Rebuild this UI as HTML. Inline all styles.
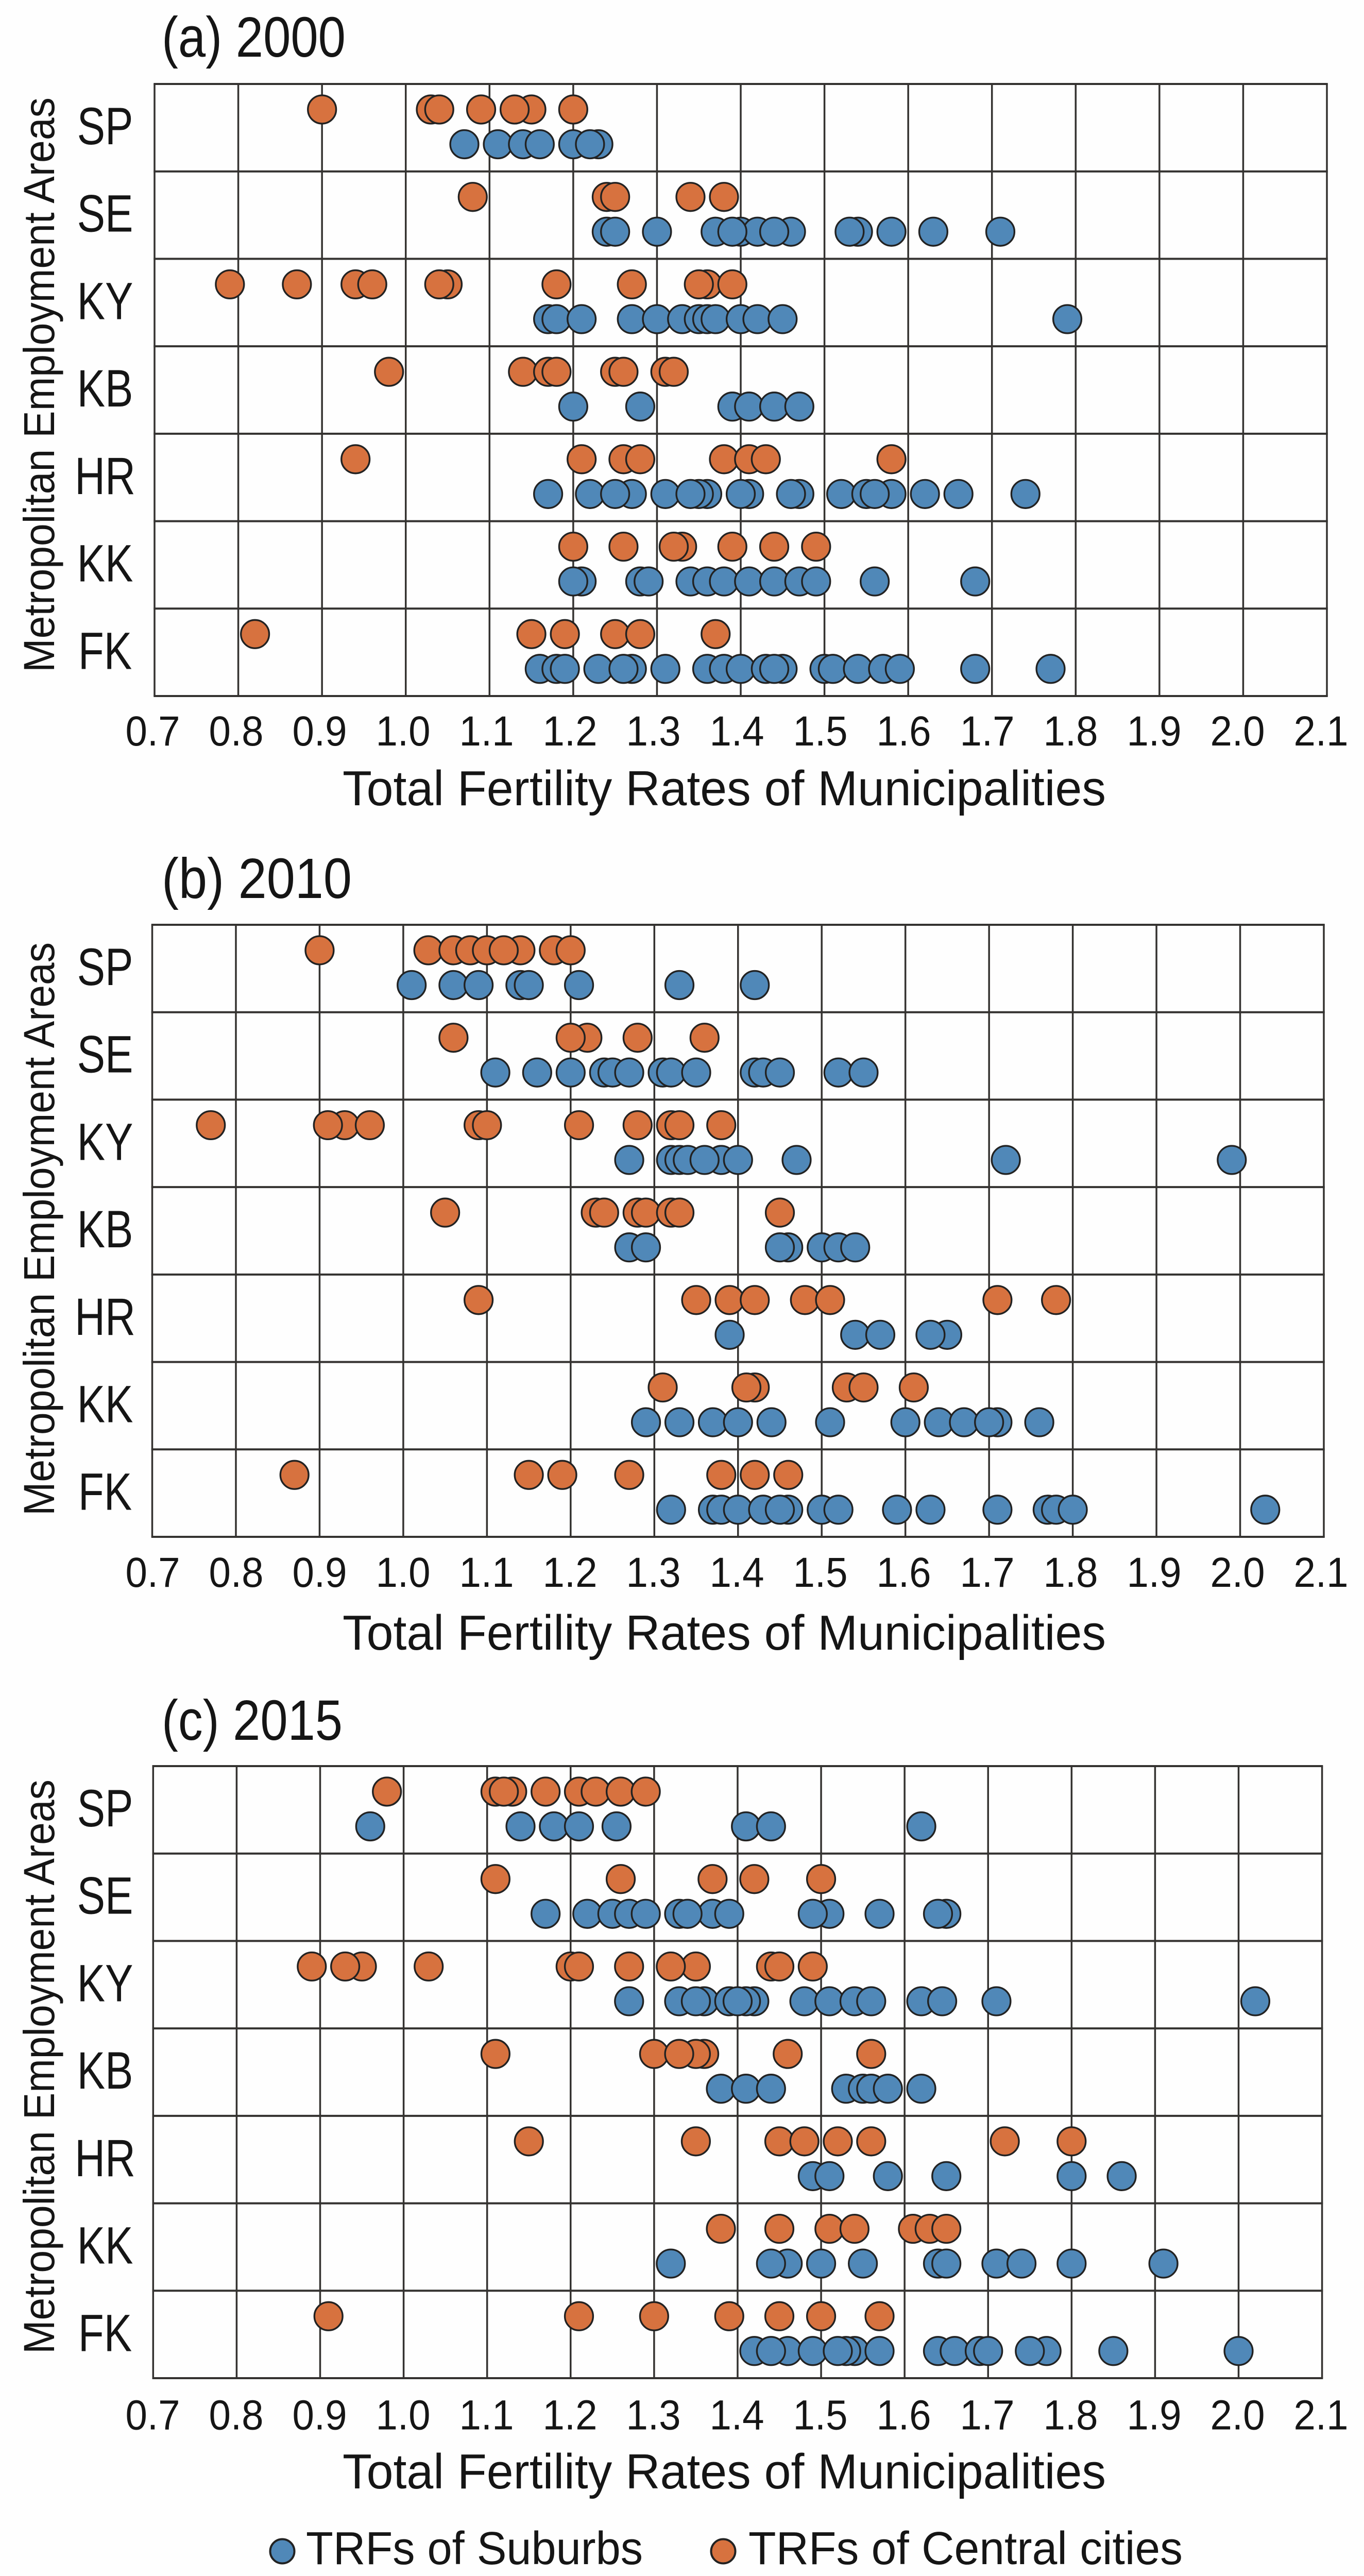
<!DOCTYPE html>
<html lang="en">
<head>
<meta charset="utf-8">
<title>Total Fertility Rates of Municipalities</title>
<style>
html,body{margin:0;padding:0;background:#fefefe;width:2648px;height:5000px;overflow:hidden;}
svg{display:block;position:absolute;left:0;top:0;overflow:hidden;}
text{font-family:"Liberation Sans",sans-serif;fill:#151515;}
</style>
</head>
<body>
<svg id="figure" xmlns="http://www.w3.org/2000/svg" width="2648" height="5000" viewBox="0 0 2648 5000">

  <g id="panel-a"></g>
  <g id="panel-b"></g>
  <g id="panel-c"></g>

  <text x="314" y="110" font-size="110" textLength="357" lengthAdjust="spacingAndGlyphs">(a) 2000</text>
  <text x="314" y="1743" font-size="110" textLength="369" lengthAdjust="spacingAndGlyphs">(b) 2010</text>
  <text x="314" y="3377" font-size="110" textLength="351" lengthAdjust="spacingAndGlyphs">(c) 2015</text>

  <text transform="translate(105,1305) rotate(-90)" font-size="84" textLength="1116" lengthAdjust="spacingAndGlyphs">Metropolitan Employment Areas</text>
  <text transform="translate(105,2942) rotate(-90)" font-size="84" textLength="1113" lengthAdjust="spacingAndGlyphs">Metropolitan Employment Areas</text>
  <text transform="translate(105,4569) rotate(-90)" font-size="84" textLength="1115" lengthAdjust="spacingAndGlyphs">Metropolitan Employment Areas</text>

  <text x="665" y="1563" font-size="96" textLength="1482" lengthAdjust="spacingAndGlyphs">Total Fertility Rates of Municipalities</text>
  <text x="665" y="3202" font-size="96" textLength="1482" lengthAdjust="spacingAndGlyphs">Total Fertility Rates of Municipalities</text>
  <text x="665" y="4830" font-size="96" textLength="1482" lengthAdjust="spacingAndGlyphs">Total Fertility Rates of Municipalities</text>

  <g>
    <g>
      <circle cx="548" cy="4952" r="23.5" fill="#5088b8" stroke="#222" stroke-width="4"/>
      <text x="594" y="4977" font-size="90" textLength="654" lengthAdjust="spacingAndGlyphs">TRFs of Suburbs</text>
    </g>
    <g>
      <circle cx="1404" cy="4952" r="23.5" fill="#d7723f" stroke="#222" stroke-width="4"/>
      <text x="1453" y="4977" font-size="90" textLength="843" lengthAdjust="spacingAndGlyphs">TRFs of Central cities</text>
    </g>
  </g>
</svg>

<script>
const categories = ["SP", "SE", "KY", "KB", "HR", "KK", "FK"];
const xTickValues = [0.7, 0.8, 0.9, 1.0, 1.1, 1.2, 1.3, 1.4, 1.5, 1.6, 1.7, 1.8, 1.9, 2.0, 2.1];
const xTickLabels = ["0.7", "0.8", "0.9", "1.0", "1.1", "1.2", "1.3", "1.4", "1.5", "1.6", "1.7", "1.8", "1.9", "2.0", "2.1"];

const central2000 = [
  [0.90, 1.03, 1.04, 1.09, 1.15, 1.13, 1.20],
  [1.08, 1.24, 1.25, 1.34, 1.38],
  [0.79, 0.87, 0.94, 0.96, 1.05, 1.04, 1.18, 1.27, 1.36, 1.35, 1.39],
  [0.98, 1.14, 1.17, 1.18, 1.25, 1.26, 1.31, 1.32],
  [0.94, 1.21, 1.26, 1.28, 1.38, 1.41, 1.43, 1.58],
  [1.20, 1.26, 1.33, 1.32, 1.39, 1.44, 1.49],
  [0.82, 1.15, 1.19, 1.25, 1.28, 1.37]
];
const suburbs2000 = [
  [1.07, 1.11, 1.14, 1.16, 1.20, 1.23, 1.22],
  [1.24, 1.25, 1.30, 1.37, 1.40, 1.42, 1.46, 1.39, 1.44, 1.54, 1.53, 1.58, 1.63, 1.71],
  [1.17, 1.18, 1.21, 1.27, 1.30, 1.33, 1.35, 1.36, 1.37, 1.40, 1.42, 1.45, 1.79],
  [1.20, 1.28, 1.39, 1.41, 1.44, 1.47],
  [1.17, 1.22, 1.27, 1.25, 1.31, 1.36, 1.35, 1.34, 1.41, 1.40, 1.47, 1.46, 1.52, 1.55, 1.58, 1.56, 1.62, 1.66, 1.74],
  [1.21, 1.20, 1.28, 1.29, 1.34, 1.36, 1.38, 1.41, 1.44, 1.47, 1.49, 1.56, 1.68],
  [1.16, 1.18, 1.19, 1.23, 1.27, 1.26, 1.31, 1.36, 1.38, 1.40, 1.45, 1.43, 1.44, 1.50, 1.51, 1.54, 1.57, 1.59, 1.68, 1.77]
];

const central2010 = [
  [0.90, 1.03, 1.06, 1.08, 1.10, 1.14, 1.12, 1.18, 1.20],
  [1.06, 1.22, 1.20, 1.28, 1.36],
  [0.77, 0.93, 0.91, 0.96, 1.09, 1.10, 1.21, 1.28, 1.32, 1.33, 1.38],
  [1.05, 1.23, 1.24, 1.28, 1.29, 1.32, 1.33, 1.45],
  [1.09, 1.35, 1.39, 1.42, 1.48, 1.51, 1.71, 1.78],
  [1.31, 1.42, 1.41, 1.53, 1.55, 1.61],
  [0.87, 1.15, 1.19, 1.27, 1.38, 1.42, 1.46]
];
const suburbs2010 = [
  [1.01, 1.06, 1.09, 1.14, 1.15, 1.21, 1.33, 1.42],
  [1.11, 1.16, 1.20, 1.24, 1.25, 1.27, 1.31, 1.32, 1.35, 1.42, 1.43, 1.45, 1.52, 1.55],
  [1.27, 1.32, 1.33, 1.34, 1.38, 1.36, 1.40, 1.47, 1.72, 1.99],
  [1.27, 1.29, 1.46, 1.45, 1.50, 1.52, 1.54],
  [1.39, 1.54, 1.57, 1.65, 1.63],
  [1.29, 1.33, 1.37, 1.40, 1.44, 1.51, 1.60, 1.64, 1.67, 1.71, 1.70, 1.76],
  [1.32, 1.37, 1.38, 1.40, 1.43, 1.46, 1.45, 1.50, 1.52, 1.59, 1.63, 1.71, 1.77, 1.78, 1.80, 2.03]
];

const central2015 = [
  [0.98, 1.11, 1.13, 1.12, 1.17, 1.21, 1.23, 1.26, 1.29],
  [1.11, 1.26, 1.37, 1.42, 1.50],
  [0.89, 0.95, 0.93, 1.03, 1.20, 1.21, 1.27, 1.35, 1.32, 1.44, 1.45, 1.49],
  [1.11, 1.30, 1.36, 1.35, 1.33, 1.46, 1.56],
  [1.15, 1.35, 1.45, 1.48, 1.52, 1.56, 1.72, 1.80],
  [1.38, 1.45, 1.51, 1.54, 1.61, 1.63, 1.65],
  [0.91, 1.21, 1.30, 1.39, 1.45, 1.50, 1.57]
];
const suburbs2015 = [
  [0.96, 1.14, 1.18, 1.21, 1.255, 1.41, 1.44, 1.62],
  [1.17, 1.22, 1.25, 1.27, 1.29, 1.33, 1.37, 1.34, 1.39, 1.51, 1.49, 1.57, 1.65, 1.64],
  [1.27, 1.33, 1.36, 1.35, 1.39, 1.42, 1.41, 1.40, 1.48, 1.51, 1.54, 1.56, 1.62, 1.645, 1.71, 2.02],
  [1.38, 1.41, 1.44, 1.53, 1.55, 1.56, 1.58, 1.62],
  [1.49, 1.51, 1.58, 1.65, 1.80, 1.86],
  [1.32, 1.46, 1.44, 1.50, 1.55, 1.64, 1.65, 1.71, 1.74, 1.80, 1.91],
  [1.42, 1.46, 1.44, 1.49, 1.54, 1.53, 1.52, 1.57, 1.64, 1.66, 1.69, 1.70, 1.77, 1.75, 1.85, 2.00]
];

const SVGNS = "http://www.w3.org/2000/svg";
const COLOR_SUBURBS = "#5088b8";
const COLOR_CENTRAL = "#d7723f";
const GRID = "#343230";

function make(tag, attrs, parent) {
  const el = document.createElementNS(SVGNS, tag);
  for (const k in attrs) el.setAttribute(k, attrs[k]);
  parent.appendChild(el);
  return el;
}

function drawPanel(groupId, year, frame, suburbs, central) {
  const g = document.getElementById(groupId);
  const xMin = xTickValues[0];
  const xMax = xTickValues[xTickValues.length - 1];
  const xScale = function (v) { return frame.left + (v - xMin) / (xMax - xMin) * (frame.right - frame.left); };
  const rowH = (frame.bottom - frame.top) / categories.length;
  const rowTop = function (i) { return frame.top + i * rowH; };

  xTickValues.forEach(function (v, i) {
    const line = make("line", { x1: xScale(v), x2: xScale(v), y1: frame.top, y2: frame.bottom, stroke: GRID, "stroke-width": 3.5 }, g);
    
    
    const label = make("text", { "text-anchor": "middle", "font-size": 82, transform: "translate(" + (296.5 + 162 * i) + "," + (frame.bottom + frame.tickOffset) + ") scale(.93,1)" }, g);
    label.textContent = xTickLabels[i];
    
    
  });

  for (let i = 0; i <= categories.length; i++) {
    const line = make("line", { x1: frame.left - 1.75, x2: frame.right + 1.75, y1: rowTop(i), y2: rowTop(i), stroke: GRID, "stroke-width": 4 }, g);
    
    
  }

  categories.forEach(function (cat, i) {
    const label = make("text", { "text-anchor": "middle", "font-size": 102, transform: "translate(204," + (rowTop(i) + 117) + ") scale(.8,1)" }, g);
    label.textContent = cat;
    
    

    suburbs[i].forEach(function (v) {
      const dot = make("circle", { cx: xScale(v), cy: rowTop(i) + 117, r: 27.4, fill: COLOR_SUBURBS, stroke: "#222", "stroke-width": 3.4 }, g);
      
      
    });
    central[i].forEach(function (v) {
      const dot = make("circle", { cx: xScale(v), cy: rowTop(i) + 49.5, r: 27.4, fill: COLOR_CENTRAL, stroke: "#222", "stroke-width": 3.4 }, g);
      
      
    });
  });
}

drawPanel("panel-a", 2000, { left: 300, right: 2576, top: 163, bottom: 1351, tickOffset: 96 }, suburbs2000, central2000);
drawPanel("panel-b", 2010, { left: 295.5, right: 2570, top: 1795, bottom: 2983, tickOffset: 97 }, suburbs2010, central2010);
drawPanel("panel-c", 2015, { left: 297.3, right: 2566.6, top: 3428, bottom: 4616, tickOffset: 99.5 }, suburbs2015, central2015);
</script>
</body>
</html>
